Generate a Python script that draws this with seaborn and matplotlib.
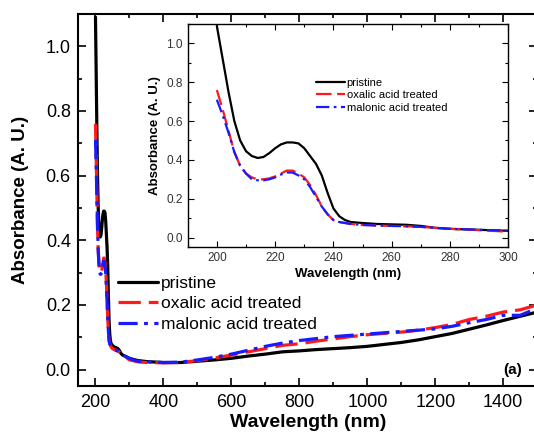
import matplotlib
matplotlib.use("Agg")
import matplotlib.pyplot as plt
from matplotlib.ticker import MultipleLocator
import seaborn as sns

sns.set_style("ticks")
plt.rcParams["font.family"] = ["Liberation Sans", "DejaVu Sans"]
plt.rcParams.update({"text.color": "black", "axes.labelcolor": "black",
                     "xtick.color": "black", "ytick.color": "black",
                     "axes.edgecolor": "black"})

# UV region, 200-300 nm (also drawn in the inset)
wl_uv = [200, 202, 204, 206, 208, 210, 212, 214, 216, 218, 220, 222, 224, 226,
         228, 230, 232, 234, 236, 238, 240, 242, 244, 246, 250, 255, 260, 265,
         270, 275, 280, 290, 300]
pristine_uv = [1.09, 0.92, 0.75, 0.60, 0.50, 0.445, 0.42, 0.41, 0.415, 0.435,
               0.46, 0.48, 0.49, 0.49, 0.485, 0.46, 0.42, 0.38, 0.32, 0.23,
               0.15, 0.11, 0.09, 0.08, 0.075, 0.07, 0.068, 0.066, 0.06, 0.05,
               0.045, 0.04, 0.035]
oxalic_uv = [0.76, 0.66, 0.55, 0.44, 0.37, 0.33, 0.31, 0.30, 0.30, 0.305,
             0.315, 0.33, 0.345, 0.345, 0.33, 0.31, 0.27, 0.22, 0.16, 0.12,
             0.09, 0.08, 0.075, 0.07, 0.065, 0.062, 0.06, 0.058, 0.055, 0.05,
             0.045, 0.038, 0.03]
malonic_uv = [0.71, 0.63, 0.54, 0.44, 0.37, 0.33, 0.30, 0.295, 0.295, 0.30,
              0.31, 0.325, 0.335, 0.335, 0.32, 0.30, 0.26, 0.21, 0.16, 0.12,
              0.09, 0.08, 0.075, 0.07, 0.065, 0.062, 0.06, 0.058, 0.055, 0.05,
              0.045, 0.04, 0.035]

# visible / NIR region
wl_vis = [310, 325, 350, 400, 450, 500, 550, 600, 650, 700, 750, 800, 850, 900,
          950, 1000, 1050, 1100, 1150, 1200, 1250, 1300, 1350, 1400, 1450, 1500]
pristine_vis = [0.032, 0.028, 0.025, 0.022, 0.022, 0.026, 0.030, 0.035, 0.042,
                0.048, 0.055, 0.058, 0.062, 0.065, 0.068, 0.072, 0.078, 0.084,
                0.092, 0.102, 0.112, 0.125, 0.138, 0.152, 0.165, 0.178]
oxalic_vis = [0.028, 0.024, 0.022, 0.021, 0.022, 0.028, 0.036, 0.045, 0.055,
              0.065, 0.075, 0.080, 0.088, 0.095, 0.102, 0.108, 0.112, 0.116,
              0.122, 0.130, 0.140, 0.155, 0.165, 0.178, 0.185, 0.200]
malonic_vis = [0.030, 0.026, 0.024, 0.022, 0.023, 0.030, 0.038, 0.048, 0.060,
               0.072, 0.082, 0.090, 0.096, 0.102, 0.106, 0.110, 0.114, 0.118,
               0.122, 0.126, 0.134, 0.145, 0.155, 0.168, 0.168, 0.190]

labels = ["pristine", "oxalic acid treated", "malonic acid treated"]
colors = ["black", "#ff1a1a", "#1a1aff"]
styles = ["-", (0, (7, 2.5)), (0, (6, 2, 1.2, 2))]
uv = [pristine_uv, oxalic_uv, malonic_uv]
vis = [pristine_vis, oxalic_vis, malonic_vis]

fig = plt.figure(figsize=(5.34, 4.33), dpi=100)
ax = fig.add_axes([0.147, 0.109, 0.859, 0.859])

for lab, col, ls, a, b in zip(labels, colors, styles, uv, vis):
    sns.lineplot(x=wl_uv + wl_vis, y=a + b, ax=ax, color=col, linestyle=ls,
                 linewidth=2.3, label=lab, errorbar=None, sort=False)

ax.set_xlim(150, 1500)
ax.set_ylim(-0.05, 1.1)
ax.xaxis.set_major_locator(MultipleLocator(200))
ax.xaxis.set_minor_locator(MultipleLocator(100))
ax.yaxis.set_major_locator(MultipleLocator(0.2))
ax.yaxis.set_minor_locator(MultipleLocator(0.1))
ax.tick_params(which="both", direction="in", top=True, right=True, width=1.2)
ax.tick_params(which="major", length=6, labelsize=13)
ax.tick_params(which="minor", length=3)
ax.tick_params(axis="x", pad=6)
ax.tick_params(axis="y", pad=5.5)
for s in ax.spines.values():
    s.set_linewidth(1.5)
ax.set_xlabel("Wavelength (nm)", fontsize=14, fontweight="bold", labelpad=2)
ax.set_ylabel("Absorbance (A. U.)", fontsize=13.5, fontweight="bold", labelpad=12)
ax.text(1428, 0.0, "(a)", fontsize=11, fontweight="bold", ha="center", va="center")
ax.legend(loc="upper left", bbox_to_anchor=(0.221, 0.363), bbox_transform=fig.transFigure,
          frameon=False, borderpad=0, borderaxespad=0, handlelength=2.3,
          handletextpad=0.2, labelspacing=0.3, fontsize=12.5)

# inset: zoom on the UV band
ins = fig.add_axes([0.3515, 0.4289, 0.6004, 0.5157])
ins.set_facecolor("white")
for lab, col, ls, a in zip(labels, colors, styles, uv):
    sns.lineplot(x=wl_uv, y=a, ax=ins, color=col, linestyle=ls,
                 linewidth=1.6, label=lab, errorbar=None, sort=False)
ins.set_xlim(190, 300)
ins.set_ylim(-0.05, 1.1)
ins.xaxis.set_major_locator(MultipleLocator(20))
ins.xaxis.set_minor_locator(MultipleLocator(10))
ins.yaxis.set_major_locator(MultipleLocator(0.2))
ins.yaxis.set_minor_locator(MultipleLocator(0.1))
ins.tick_params(which="both", direction="in", top=True, right=True, width=0.8,
                labelcolor="#333333")
ins.tick_params(which="major", length=4, labelsize=8.5, pad=3.5)
ins.tick_params(which="minor", length=2)
for s in ins.spines.values():
    s.set_linewidth(1.0)
ins.set_xlabel("Wavelength (nm)", fontsize=9.5, fontweight="bold", labelpad=3)
ins.set_ylabel("Absorbance (A. U.)", fontsize=9.5, fontweight="bold", labelpad=4)
ins.legend(loc="upper left", bbox_to_anchor=(0.592, 0.821), bbox_transform=fig.transFigure,
           frameon=False, borderpad=0, borderaxespad=0, handlelength=2.6,
           handletextpad=0.15, labelspacing=0.23, fontsize=8)

fig.savefig("out.png", dpi=100)
